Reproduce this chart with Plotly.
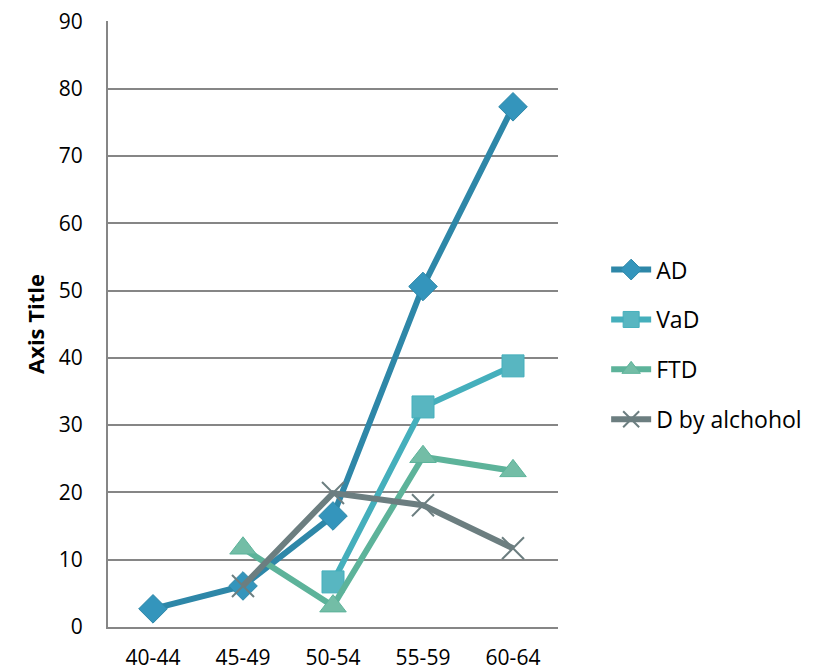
import plotly.graph_objects as go

categories = ["40-44", "45-49", "50-54", "55-59", "60-64"]
ad = [2.7, 6.1, 16.5, 50.6, 77.3]
vad = [None, None, 6.7, 32.7, 38.8]
ftd = [None, 11.7, 3.1, 25.3, 23.2]
alcohol = [None, 6.1, 19.9, 18.1, 11.7]
series_names = ["AD", "VaD", "FTD", "D by alchohol"]
y_ticks = list(range(0, 91, 10))

styles = [
    dict(line="#2E87A8", marker="#3495BC", symbol="diamond", size=22, mline=dict(color="#2E87A8", width=1)),
    dict(line="#45AFBC", marker="#58B6C1", symbol="square", size=22, mline=dict(color="#45AFBC", width=1)),
    dict(line="#5DB39A", marker="#73BDA6", symbol="triangle-up", size=23, mline=dict(color="#5DB39A", width=1)),
    dict(line="#6C7E80", marker="#6C7E80", symbol="x-thin", size=22, mline=dict(color="#6C7E80", width=2)),
]

fig = go.Figure()
for name, vals, st in zip(series_names, [ad, vad, ftd, alcohol], styles):
    fig.add_trace(go.Scatter(
        x=categories, y=vals, name=name, mode="lines+markers",
        legendgroup=name,
        line=dict(color=st["line"], width=6),
        marker=dict(symbol=st["symbol"], size=st["size"], color=st["marker"], line=st["mline"]),
        connectgaps=False,
    ))

font_family = "Open Sans, Noto Sans, DejaVu Sans, sans-serif"
fig.update_layout(
    width=822, height=664,
    margin=dict(l=100, r=272, t=13, b=45),
    paper_bgcolor="white", plot_bgcolor="white",
    font=dict(family=font_family, size=21, color="#000000"),
    showlegend=True,
    legend=dict(
        x=1.107, xanchor="left", y=0.466, yanchor="middle",
        traceorder="grouped", tracegroupgap=17,
        font=dict(size=23, color="#000000"),
        bgcolor="rgba(0,0,0,0)", itemwidth=40,
    ),
    xaxis=dict(
        type="category", range=[-0.5, 4.5], automargin=False,
        showgrid=False, showline=True, linecolor="#868686", linewidth=2,
        ticks="", ticklabelstandoff=11, zeroline=False,
        tickfont=dict(size=21),
    ),
    yaxis=dict(
        range=[0, 90.05], tickvals=y_ticks, showgrid=True, gridcolor="#868686", gridwidth=1.5,
        showline=True, linecolor="#868686", linewidth=2, zeroline=False, automargin=False,
        ticks="", ticklabelstandoff=19, tickfont=dict(size=21), ticklabeloverflow="allow",
        title=dict(text="<b>Axis Title</b>", font=dict(size=22), standoff=8),
    ),
)

fig.write_html("out.html")
